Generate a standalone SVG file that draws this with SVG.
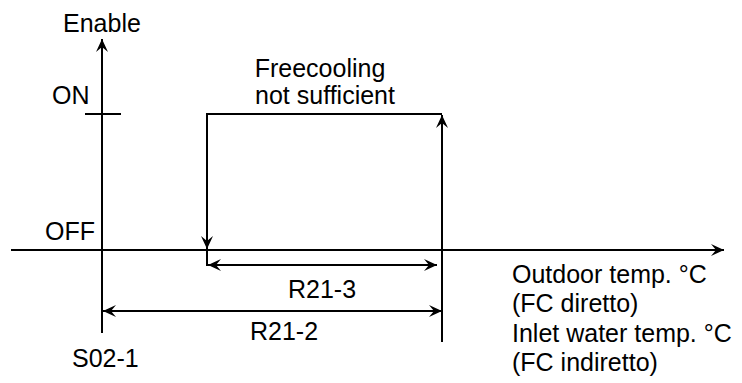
<svg xmlns="http://www.w3.org/2000/svg" width="742" height="383" viewBox="0 0 742 383">
<style>
.ln{stroke:#000;stroke-width:2;fill:none}
.t{font-family:"Liberation Sans",Arial,sans-serif;font-size:25px;fill:#000}
</style>
<defs>
<marker id="ah" markerUnits="userSpaceOnUse" markerWidth="16" markerHeight="16" viewBox="-14 -8 16 16" refX="0" refY="0" orient="auto-start-reverse">
<path d="M0,0 L-13,-6 L-8,0 L-13,6 Z" fill="#000"/>
</marker>
</defs>
<rect width="742" height="383" fill="#fff"/>
<g id="connectors">
<line class="ln" x1="102" y1="333" x2="102" y2="39" marker-end="url(#ah)"/>
<line class="ln" x1="11" y1="250" x2="724" y2="250" marker-end="url(#ah)"/>
<line class="ln" x1="85" y1="114" x2="121" y2="114"/>
<line class="ln" x1="442" y1="342" x2="442" y2="115" marker-end="url(#ah)"/>
<polyline class="ln" points="442,114 207,114 207,249" marker-end="url(#ah)"/>
<line class="ln" x1="207" y1="250" x2="207" y2="266"/>
<line class="ln" x1="208" y1="265" x2="437" y2="265" marker-start="url(#ah)" marker-end="url(#ah)"/>
<line class="ln" x1="103" y1="311" x2="442" y2="311" marker-start="url(#ah)" marker-end="url(#ah)"/>
</g>
<g id="label-enable"><text class="t" x="63" y="32">Enable</text></g>
<g id="label-on"><text class="t" x="52" y="104">ON</text></g>
<g id="label-off"><text class="t" x="45" y="240">OFF</text></g>
<g id="label-freecooling"><text class="t" text-anchor="middle"><tspan x="320" y="77">Freecooling</tspan><tspan x="325" y="104">not sufficient</tspan></text></g>
<g id="label-r21-3"><text class="t" x="288" y="298">R21-3</text></g>
<g id="label-r21-2"><text class="t" x="250" y="340">R21-2</text></g>
<g id="label-s02-1"><text class="t" x="72" y="367">S02-1</text></g>
<g id="label-xaxis"><text class="t"><tspan x="512" y="283">Outdoor temp. °C</tspan><tspan x="512" y="312">(FC diretto)</tspan><tspan x="512" y="342">Inlet water temp. °C</tspan><tspan x="512" y="371">(FC indiretto)</tspan></text></g>
</svg>
